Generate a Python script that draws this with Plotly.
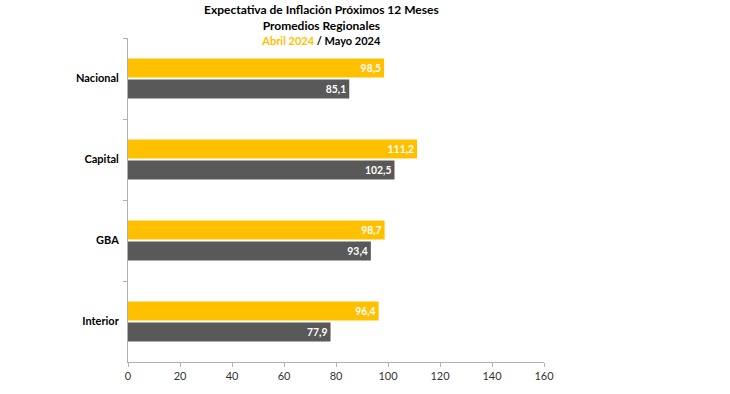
import plotly.graph_objects as go

categories = ["Nacional", "Capital", "GBA", "Interior"]
abril_2024 = [98.5, 111.2, 98.7, 96.4]
mayo_2024 = [85.1, 102.5, 93.4, 77.9]
x_ticks = [0, 20, 40, 60, 80, 100, 120, 140, 160]

def fmt(vals):
    return [f"{v:.1f}".replace(".", ",") for v in vals]

YELLOW = "#FFC000"
DARK = "#595959"
FONT = "Lato"

fig = go.Figure()
fig.add_trace(go.Bar(
    y=categories, x=abril_2024, orientation="h", name="Abril 2024",
    marker=dict(color=YELLOW, line=dict(width=0)),
    text=fmt(abril_2024), textposition="inside", insidetextanchor="end",
    textfont=dict(color="white", size=12, family=FONT, weight="bold"),
    cliponaxis=False,
))
fig.add_trace(go.Bar(
    y=categories, x=mayo_2024, orientation="h", name="Mayo 2024",
    marker=dict(color=DARK, line=dict(width=0)),
    text=fmt(mayo_2024), textposition="inside", insidetextanchor="end",
    textfont=dict(color="white", size=12, family=FONT, weight="bold"),
    cliponaxis=False,
))

fig.update_layout(
    width=730, height=394,
    margin=dict(l=128, r=186, t=38, b=32, autoexpand=False),
    paper_bgcolor="white", plot_bgcolor="white",
    barmode="group", bargap=0.48, bargroupgap=0.1,
    showlegend=False,
    font=dict(family=FONT, color="#000000"),
    uniformtext=dict(mode="show", minsize=8),
)
fig.update_xaxes(
    range=[0, 160], tickvals=x_ticks, showgrid=False, zeroline=False,
    showline=True, linecolor="#B0B0B0", linewidth=1, automargin=False,
    ticks="outside", ticklen=4, tickcolor="#B0B0B0",
    tickfont=dict(size=11, color="#333333", family=FONT),
)
fig.update_yaxes(
    autorange="reversed", showgrid=False, zeroline=False,
    showline=True, linecolor="#B0B0B0", linewidth=1, automargin=False,
    ticks="outside", ticklen=4, tickcolor="#B0B0B0", tickson="boundaries",
    tickfont=dict(size=11, color="#000000", family=FONT, weight="bold"),
    ticklabelstandoff=6,
)

tx = (321 - 128) / 416
def ypix(p):
    return (394 - 32 - p) / 324

title_text = (
    "<b>Expectativa de Inflación Próximos 12 Meses</b><br>"
    "<b>Promedios Regionales</b><br>"
    f"<b><span style='font-size:11px'><span style='color:{YELLOW}'>Abril 2024</span> / Mayo 2024</span></b>"
)
fig.add_annotation(xref="paper", yref="paper", x=tx, y=ypix(0), yanchor="top",
                   text=title_text, showarrow=False,
                   font=dict(size=12, family=FONT, color="#000000"))

fig.write_html("out.html", config={"displayModeBar": False},
               post_script="document.body.style.margin='0';document.body.style.overflow='hidden';")
